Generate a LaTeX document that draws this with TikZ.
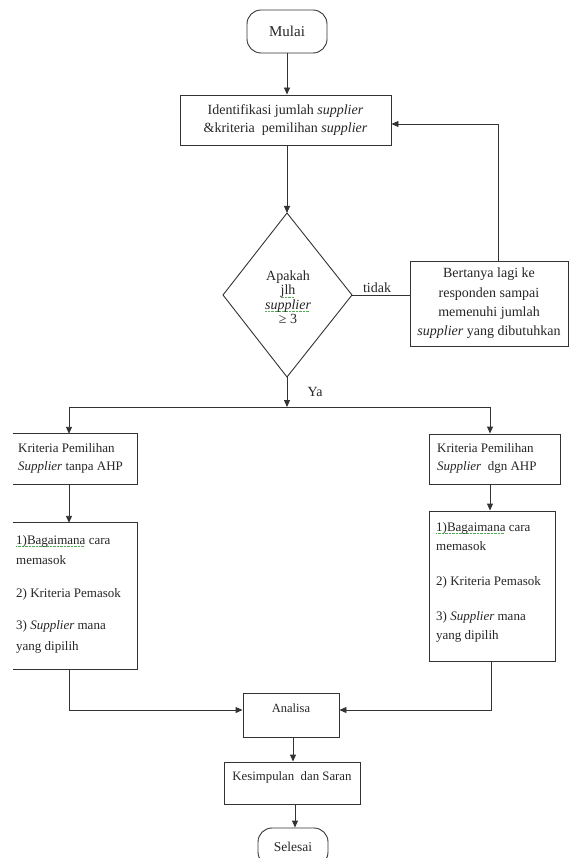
\documentclass[tikz,border=0pt]{standalone}
\usepackage{fontspec}
\setmainfont{Liberation Serif}
\usetikzlibrary{arrows.meta}
\definecolor{linec}{HTML}{333333}
\definecolor{sqg}{HTML}{55AA55}
\newsavebox\gsqbox
\newcommand\gsq[1]{\sbox\gsqbox{#1}\rlap{\raisebox{-2.6pt}[0pt][0pt]{\makebox[\wd\gsqbox]{\color{sqg}\leaders\hbox{\rule{0.9pt}{0.6pt}\kern0.5pt}\hfill}}}\usebox\gsqbox}
\begin{document}
\begin{tikzpicture}[x=1pt,y=-1pt,
  box/.style={draw=linec, line width=0.9pt, inner sep=0pt},
  openbox/.style={inner sep=0pt},
  term/.style={box, rounded corners=14pt},
  ln/.style={draw=linec, line width=0.9pt},
  arr/.style={ln, -{Triangle[length=7pt,width=6pt]}},
  txt/.style={inner sep=0pt, text=black!85},
  f13/.style={font=\fontsize{13}{18}\selectfont},
  f14/.style={font=\fontsize{14}{18}\selectfont}]
\fill[white] (0,0) rectangle (569,858);
\useasboundingbox (0,0) rectangle (569,858);

% terminals and boxes
\node[term, txt, font=\fontsize{15}{18}\selectfont, minimum width=80pt, minimum height=43pt] (mulai) at (287,31.5) {Mulai};
\node[box, txt, f14, align=center, minimum width=211pt, minimum height=50pt] (ident) at (285.5,120)
  {Identifikasi jumlah \textit{supplier}\\\&kriteria\ \ pemilihan \textit{supplier}};

% decision diamond
\coordinate (dtop) at (287,213);
\coordinate (dright) at (352,295);
\coordinate (dbot) at (287,377);
\coordinate (dleft) at (223,295);
\draw[ln] (dtop) -- (dright) -- (dbot) -- (dleft) -- cycle;
\node[txt, align=center, font=\fontsize{14}{14.5}\selectfont] (dtext) at (288,297)
  {Apakah\\\gsq{jlh}\\\textit{\gsq{supplier}}\\≥ 3};

\node[box, txt, align=center, font=\fontsize{14}{19.3}\selectfont, minimum width=158pt, minimum height=85pt] (bert) at (489,303.5)
  {Bertanya lagi ke\\responden sampai\\memenuhi jumlah\\\textit{supplier} yang dibutuhkan};
\node[txt, f14] (tidak) at (377,288) {\gsq{tidak}};
\node[txt, f14] (ya) at (315,392) {Ya};

% branch boxes
\node[openbox, minimum width=124pt, minimum height=50pt] (lb1) at (75,459) {};
\draw[ln] (lb1.north west) -- (lb1.north east) -- (lb1.south east) -- (lb1.south west);
\node[txt, f13, align=left, anchor=west] (tlb1) at (18,458) {Kriteria Pemilihan\\\textit{Supplier} tanpa AHP};

\node[box, minimum width=131pt, minimum height=50pt] (rb1) at (494.5,459) {};
\node[txt, f13, align=left, anchor=west] (trb1) at (437,458) {Kriteria Pemilihan\\\textit{Supplier}\ \ dgn AHP};

\node[openbox, minimum width=124pt, minimum height=146pt] (lb2) at (75,596) {};
\draw[ln] (lb2.north west) -- (lb2.north east) -- (lb2.south east) -- (lb2.south west);
\node[txt, font=\fontsize{13}{20.5}\selectfont, align=left, anchor=west] (tlb2) at (16,594)
  {\gsq{1)Bagaimana} cara\\memasok\\[12.5pt]2) Kriteria Pemasok\\[11.5pt]3) \textit{Supplier} mana\\yang dipilih};

\node[box, minimum width=126pt, minimum height=150pt] (rb2) at (492,586) {};
\node[txt, font=\fontsize{13}{19}\selectfont, align=left, anchor=west] (trb2) at (436,582)
  {\gsq{1)Bagaimana} cara\\memasok\\[16pt]2) Kriteria Pemasok\\[16pt]3) \textit{Supplier} mana\\yang dipilih};

% final boxes
\node[box, minimum width=96pt, minimum height=44pt] (ana) at (291,715) {};
\node[txt, font=\fontsize{12.5}{15}\selectfont] (tana) at (291,708) {Analisa};
\node[box, minimum width=136pt, minimum height=42pt] (kes) at (292,783) {};
\node[txt, font=\fontsize{12.8}{15}\selectfont] (tkes) at (292,777) {Kesimpulan\ \ dan Saran};
\node[term, txt, font=\fontsize{13.5}{16}\selectfont, minimum width=70pt, minimum height=38pt] (sel) at (293,847) {Selesai};

% connectors
\draw[arr] (mulai.south) -- (mulai.south |- ident.north);
\draw[arr] (dtop |- ident.south) -- (dtop);
\draw[ln] (dright) -- (bert.west |- dright);
\coordinate (bertup) at (498,124);
\draw[arr] (bert.north -| bertup) -- (bertup) -- (ident.east |- bertup);
\coordinate (split) at (287,407);
\draw[arr] (dbot) -- (split);
\coordinate (splitL) at (69,407);
\coordinate (splitR) at (490,407);
\draw[ln] (splitL) -- (splitR);
\draw[arr] (splitL) -- (splitL |- lb1.north);
\draw[arr] (splitR) -- (splitR |- rb1.north);
\draw[arr] (lb1.south -| splitL) -- (splitL |- lb2.north);
\draw[arr] (rb1.south -| splitR) -- (splitR |- rb2.north);
\coordinate (joinL) at (69,710);
\coordinate (joinR) at (491,710);
\draw[arr] (lb2.south -| joinL) -- (joinL) -- (ana.west |- joinL);
\draw[arr] (rb2.south -| joinR) -- (joinR) -- (ana.east |- joinR);
\coordinate (akx) at (293,0);
\draw[arr] (ana.south -| akx) -- (akx |- kes.north);
\coordinate (ksx) at (295,0);
\draw[arr] (kes.south -| ksx) -- (ksx |- sel.north);
\end{tikzpicture}
\end{document}
